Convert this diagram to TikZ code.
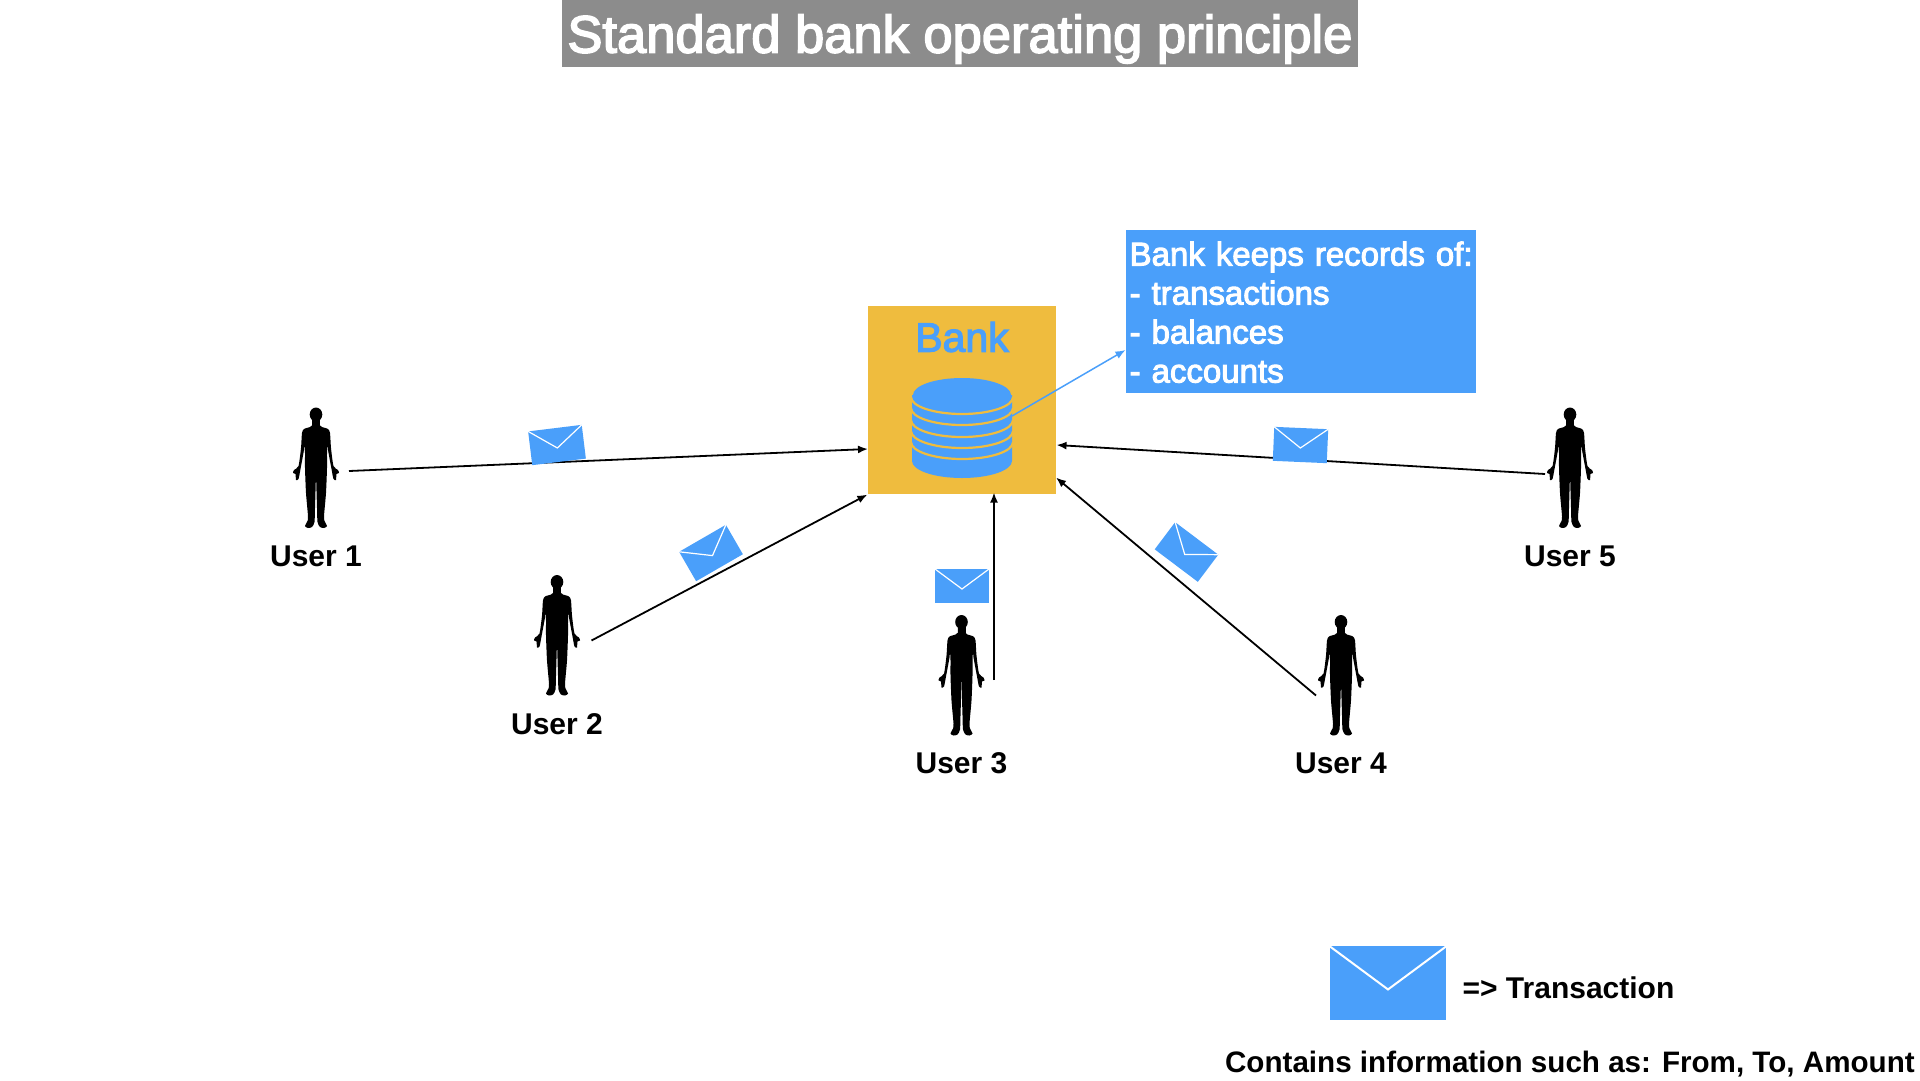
\documentclass[tikz,border=0pt]{standalone}
\usepackage{fontspec}
\setmainfont{Liberation Sans}
\newfontfamily\mediumfont[FakeBold=3]{Liberation Sans}
\usetikzlibrary{arrows.meta}
\definecolor{mailblue}{RGB}{74,159,250}
\definecolor{bankgold}{RGB}{239,188,62}
\definecolor{titlegray}{RGB}{140,140,140}
\tikzset{
  flow/.style={-{Latex[length=10pt,width=8pt]}, line width=1.8pt, black},
  username/.style={font=\bfseries\fontsize{30}{36}\selectfont, inner sep=0pt},
  envelope/.pic={
    \fill[mailblue] (-27,-17) rectangle (27,17);
    \draw[white, line join=miter] (-27,-17) -- (0,3) -- (27,-17);
  },
  person/.pic={
    \fill (0,6.5) ellipse [x radius=6.3pt, y radius=7pt];
    \fill (-4,11) rectangle (4,66);
    \foreach \s in {1,-1} {
      \fill[xscale=\s] plot[smooth, tension=.4] coordinates {
        (0,11) (3.5,12) (3.5,17) (6,19) (12,21) (14,25) (15,40) (17.5,58) (22,62)
        (23,65) (20.5,66) (20,72) (17.5,71) (15.5,61) (12,42) (11.5,36) (11,45) (11,60)
        (10,85) (8,108) (8.5,113) (11,118) (8,120) (4,119) (1.5,114) (1,100) (0,66)
      } -- cycle;
    }
  }
}
\begin{document}
\begin{tikzpicture}[x=1pt, y=-1pt, line width=1.2pt]
  \useasboundingbox (0,0) rectangle (1920,1080);

  \node[fill=titlegray, minimum width=796pt, minimum height=67pt, inner sep=0pt] (title) at (960,33.5) {};
  \node[text=white, inner sep=0pt, font=\mediumfont\fontsize{52.5}{60}\selectfont] (titletext) at (960,39) {Standard bank operating principle};

  % bank with its database
  \node[fill=bankgold, minimum width=188pt, minimum height=188pt, inner sep=0pt] (bank) at (962,400) {};
  \node[text=mailblue, inner sep=0pt, font=\mediumfont\fontsize{41}{48}\selectfont] (banklabel) at (962,337) {Bank};
  \fill[mailblue] (912,395) -- (912,461) arc[start angle=180, end angle=360, x radius=50pt, y radius=17pt]
    -- (1012,395) -- cycle;
  \foreach \y in {397,408,420,431,442}
    \draw[bankgold, line width=2.2pt] (911,\y) arc[start angle=180, end angle=360, x radius=51pt, y radius=17pt];
  \fill[mailblue] (962,395) ellipse [x radius=49pt, y radius=17pt];

  \node[fill=mailblue, anchor=north west, minimum width=350pt, minimum height=163pt, inner sep=0pt] (records)
    at (1125.5,229.5) {};
  \node[text=white, anchor=north west, inner sep=0pt, text width=345pt, align=left,
    font=\mediumfont\fontsize{33}{39}\selectfont] (recordstext)
    at (1129,241) {Bank keeps records of:\\- transactions\\- balances\\- accounts};
  \coordinate (dbedge) at (1012,416);
  \coordinate (recordsin) at (1125.5,350);
  \draw[-{Latex[length=10pt,width=8pt]}, mailblue, line width=1.5pt] (dbedge) -- (recordsin);

  % users
  \pic at (316,408) {person};
  \pic at (557,575.5) {person};
  \pic at (961.5,615.5) {person};
  \pic at (1341,615.5) {person};
  \pic at (1570,408) {person};
  \node[username] (user1) at (316,556) {User 1};
  \node[username] (user2) at (557,724) {User 2};
  \node[username] (user3) at (961.5,763) {User 3};
  \node[username] (user4) at (1341,763) {User 4};
  \node[username] (user5) at (1570,556) {User 5};

  % connectors
  \coordinate (out1) at (349,471);
  \coordinate (out2) at (591.5,640.5);
  \coordinate (out3) at (994,680);
  \coordinate (out4) at (1316,695.5);
  \coordinate (out5) at (1545,474);
  \coordinate (in1) at (868,449);
  \coordinate (in3) at (994,492.5);
  \coordinate (in4) at (1056,477.5);
  \coordinate (in5) at (1056.5,445);
  \draw[flow] (out1) -- (in1);
  \draw[flow] (out2) -- (bank.south west);
  \draw[flow] (out3) -- (in3);
  \draw[flow] (out4) -- (in4);
  \draw[flow] (out5) -- (in5);

  % transactions
  \pic[rotate=7] at (557,445) {envelope};
  \pic[rotate=30] at (711,553) {envelope};
  \pic at (962,586) {envelope};
  \pic[rotate=-37] at (1186.5,552) {envelope};
  \pic[rotate=-2.5] at (1300.5,445) {envelope};

  % legend
  \pic[scale=2.15, line width=2pt] at (1388,983) {envelope};
  \node[username, anchor=west] (legend) at (1462,988) {=> Transaction};
  \node[username, anchor=west, font=\bfseries\fontsize{29.6}{36}\selectfont] (contents) at (1224.5,1064.5) {Contains information such as: From, To, Amount};
\end{tikzpicture}
\end{document}
